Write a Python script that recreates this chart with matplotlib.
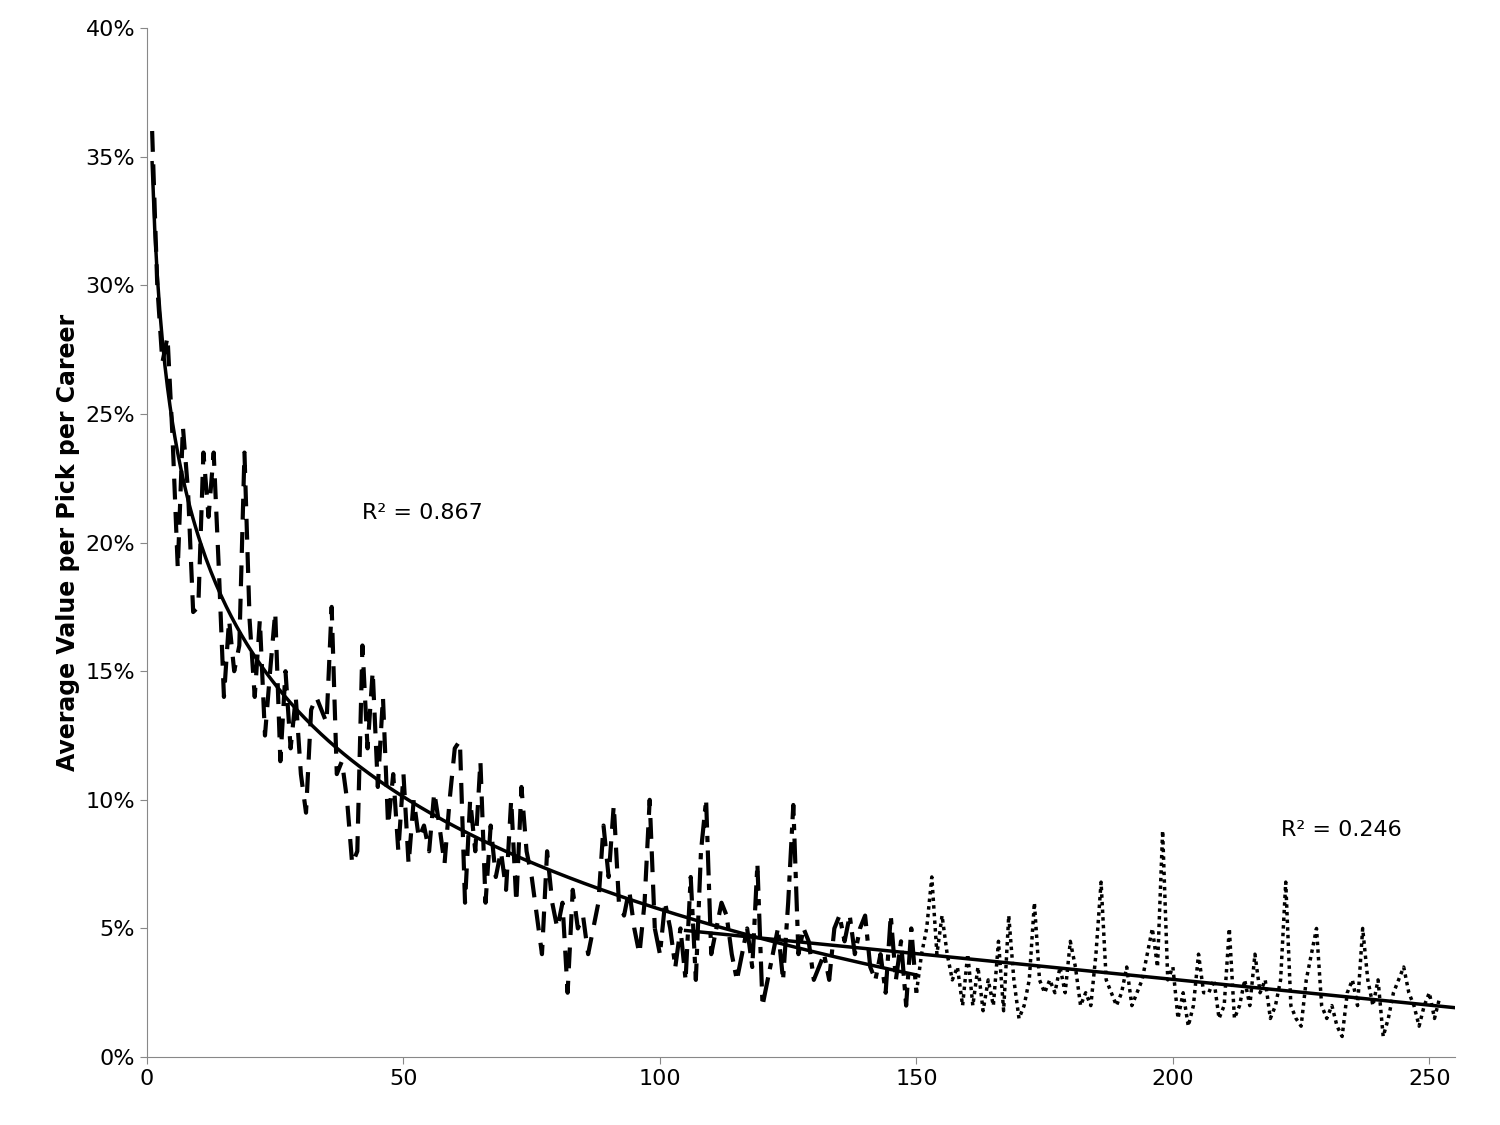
import numpy as np
import matplotlib.pyplot as plt
from matplotlib.ticker import FuncFormatter

vals = [36,30,27,28,24,19,24.5,22,17.3,17.5,23.5,21,23.5,19,14,17,15,16,23.5,17,
14,17,12.5,15,17.3,11.5,15,12,14,11,9.5,13.5,14,13.5,13,17.5,11,11.5,10,7.5,
8,16,12,15,10.5,14,9,11,8,11,7.5,10,8.5,9,8,10.3,9,7.5,10,12,
12.3,6,10,8,11.5,6,9,7,8,6.5,10,6,10.5,8,7,5.5,4,8,6,5,
6,2.5,6.5,5,5.5,4,5,6,9,7,9.8,6,5.5,6.5,5,4,6,10,5,4,
6,5,3.5,5,3,7,3,8,10,4,5,6,5.5,4,3,4,5,3.5,7.5,2,
3,4,5,3,6,9.8,4,5,4.5,3,3.5,4,3,5,5.5,4.5,5.5,4,5,5.5,
3.5,3,4,2.5,5.5,3,4.5,2,5,2.5,4,5,7,4,5.5,4,3,3.5,2,4,
2,3.5,1.8,3,2,4.5,1.8,5.5,3,1.5,2,3,6,3,2.5,3,2.5,3.5,2.5,4.5,
3.5,2,2.5,2,4,6.8,3,2.5,2,2.5,3.5,2,2.5,3,4,5,3.5,8.8,3,3.5,
1.5,2.5,1.2,2,4,2.5,2.5,3,1.5,2,5,1.5,2,3,2,4,2.5,3,1.5,2,
3,6.8,2,1.5,1.2,3,4,5,2,1.5,2,1.2,0.8,2.5,3,2,5,3,2,3,
0.8,1.5,2.5,3,3.5,2.5,2,1.2,2,2.5,1.5,2.3]
x = np.arange(1, len(vals) + 1)
y = np.array(vals) / 100

fig = plt.figure(figsize=(15, 11.25), dpi=100)
ax = fig.add_axes([0.098, 0.0604, 0.872, 0.9146])

m1 = x <= 99
m2 = (x >= 99) & (x <= 150)
m3 = x >= 150
ax.plot(x[m1], y[m1], color='black', lw=3, ls=(0, (5, 3)))
ax.plot(x[m2], y[m2], color='black', lw=3, ls=(0, (6, 2, 1.5, 2)))
ax.plot(x[m3], y[m3], color='black', lw=2.5, ls=(0, (1, 1.2)))

# log trend on 1..150
t = x <= 150
b, a = np.polyfit(np.log(x[t]), y[t], 1)
xx = np.linspace(1, 150, 300)
ax.plot(xx, a + b * np.log(xx), color='black', lw=2.5)
# linear trend on 105..255
t2 = x >= 105
k, c = np.polyfit(x[t2], y[t2], 1)
xl = np.array([105, 255])
ax.plot(xl, c + k * xl, color='black', lw=2.5)

ax.text(42, 0.209, 'R² = 0.867', fontsize=16)
ax.text(221, 0.086, 'R² = 0.246', fontsize=16)

ax.set_xlim(0, 255)
ax.set_ylim(0, 0.40)
ax.set_xticks([0, 50, 100, 150, 200, 250])
ax.set_yticks(np.arange(0, 0.41, 0.05))
ax.yaxis.set_major_formatter(FuncFormatter(lambda v, p: f'{v*100:.0f}%'))
ax.tick_params(labelsize=16, length=5, color='#888888')
for s in ['top', 'right']:
    ax.spines[s].set_visible(False)
for s in ['left', 'bottom']:
    ax.spines[s].set_color('#888888')
ax.set_ylabel('Average Value per Pick per Career', fontsize=17, fontweight='bold')
fig.savefig('out.png')
